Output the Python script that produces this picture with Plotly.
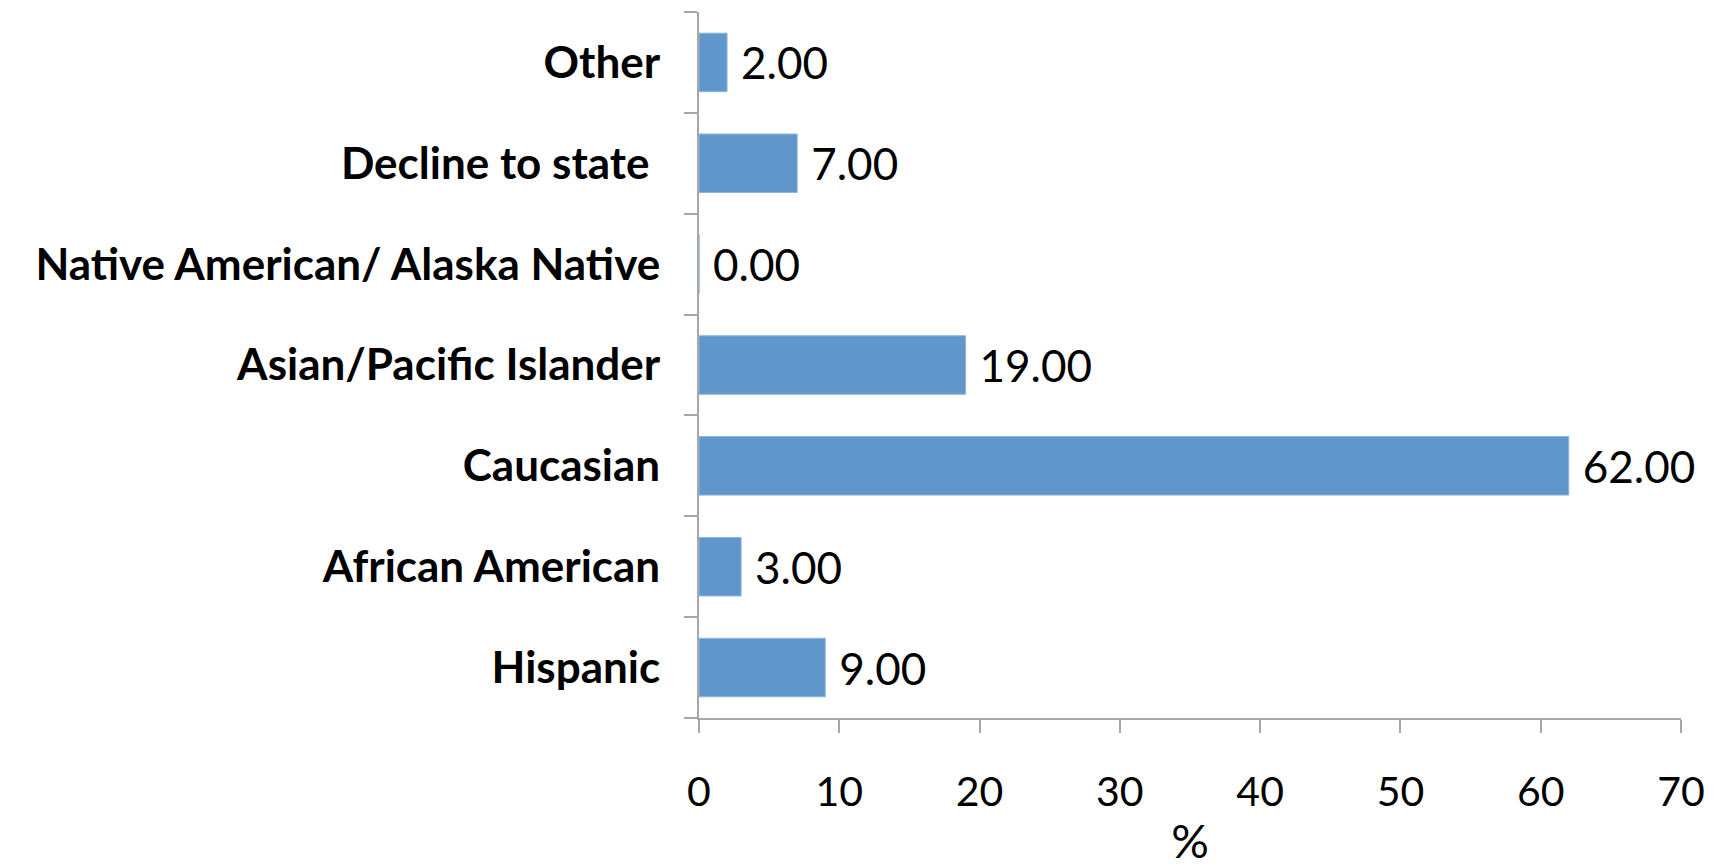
"""Ethnicity breakdown, horizontal bar chart."""
import plotly.graph_objects as go

categories = [
    "Hispanic",
    "African American",
    "Caucasian",
    "Asian/Pacific Islander",
    "Native American/ Alaska Native",
    "Decline to state ",
    "Other",
]
percent = [9, 3, 62, 19, 0, 7, 2]
x_ticks = [0, 10, 20, 30, 40, 50, 60, 70]

BAR = "#6097CA"
AXIS = "#A6A6A6"
FONT = "Lato, 'Open Sans', sans-serif"

fig = go.Figure()
fig.add_trace(go.Bar(
    x=percent, y=categories, orientation="h",
    marker=dict(color=BAR, line=dict(color="#8DB4E0", width=1)),
    text=[f"\u2009\u2009{v:.2f}" for v in percent],
    textposition="outside",
    textfont=dict(size=44, color="#000000", family=FONT),
    cliponaxis=False,
    hoverinfo="skip",
))

# page body keeps its default 8px margin, so the figure is 16px smaller
fig.update_layout(
    width=1710, height=860,
    margin=dict(l=691, r=37, t=4, b=150),
    plot_bgcolor="white", paper_bgcolor="white",
    bargap=0.42,
    showlegend=False,
    font=dict(family=FONT, color="#000000"),
    xaxis=dict(
        range=[0, 70], tickvals=x_ticks,
        showgrid=False, zeroline=False,
        showline=True, linecolor=AXIS, linewidth=2,
        ticks="outside", ticklen=13, tickcolor=AXIS, tickwidth=2,
        tickfont=dict(size=41, family=FONT),
        ticklabelstandoff=24,
        title=dict(text="%", font=dict(size=47, family=FONT), standoff=12),
    ),
    yaxis=dict(
        type="category",
        showgrid=False, zeroline=False,
        showline=True, linecolor=AXIS, linewidth=2,
        ticks="outside", ticklen=13, tickcolor=AXIS, tickwidth=2,
        tickson="boundaries",
        tickfont=dict(size=44, family=FONT, weight="bold"),
        ticklabelstandoff=28,
    ),
)

fig.write_html("out.html")
